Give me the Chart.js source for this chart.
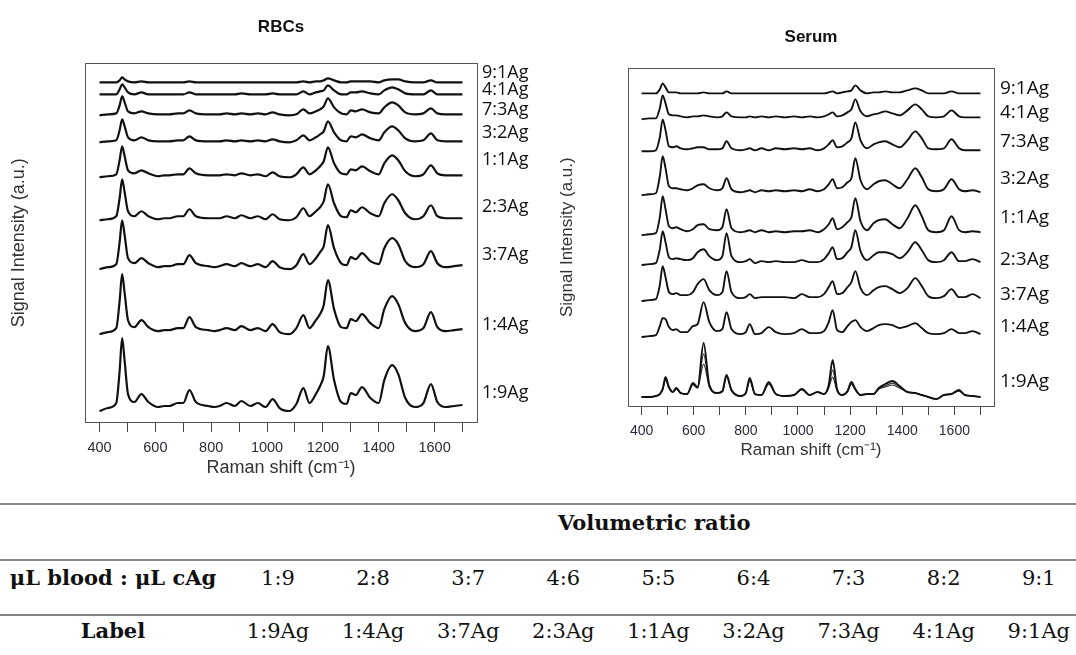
<!DOCTYPE html>
<html>
<head>
<meta charset="utf-8">
<script src="https://cdn.jsdelivr.net/npm/chart.js@4"></script>
<style>
  body { margin: 0; background: #fff; width: 1076px; height: 655px; position: relative; overflow: hidden; }
  canvas { position: absolute; top: 0; }
  #rbc { left: 0; }
  #serum { left: 540px; }
  .rule { position: absolute; left: 0; width: 1076px; height: 2px; background: #858585; }
  .cell { position: absolute; font-family: "DejaVu Serif", serif; font-size: 21px; color: #111; text-align: center; line-height: 24px; white-space: nowrap; }
  .head { font-weight: bold; }
</style>
</head>
<body>
<canvas id="rbc" width="540" height="490"></canvas>
<canvas id="serum" width="536" height="490"></canvas>
<div id="table"></div>
<script>
// Raman shift grid (cm-1) for each panel
const rbcShift = [400,430,460,472,481,490,502,525,550,575, 610,632,650,680,700,722,745,790,812,830,
  855,885,908,940,967,995,1020,1045,1080,1105, 1130,1152,1175,1190,1203,1218,1240,1265,1285,1300,
  1318,1340,1370,1400,1420,1448,1470,1495,1530,1560, 1587,1610,1640,1670,1700];
const serumShift = [400,430,455,470,481,492,505,520,533,550, 575,597,615,638,660,690,710,726,745,780,
  800,815,835,860,888,915,950,985,1015,1045, 1075,1100,1118,1133,1150,1170,1190,1205,1220,1240,
  1265,1290,1310,1335,1362,1390,1420,1450,1475,1500, 1530,1560,1589,1618,1640,1670,1700];

const shiftTicks = [400,500,600,700,800,900,1000,1100,1200,1300,1400,1500,1600,1700];
const shiftTickLabels = [400,600,800,1000,1200,1400,1600];

const names = ["9:1Ag","4:1Ag","7:3Ag","3:2Ag","1:1Ag","2:3Ag","3:7Ag","1:4Ag","1:9Ag"];

// RBCs spectra (a.u. above each trace's baseline)
const rbc91 = [0,0,0,2,5,3,1,0,1,0, 0,0,0,0,0,1,0,0,0,0, 0,0,0,0,0,0,0,0,0,0, 1,0,1,1,2,4,2,0,0,1, 1,1,1,0,2,3,3,1,0,0, 2,0,0,0,0];
const rbc41 = [0,0,0,5,10,7,2,0,2,0, 0,0,0,0,0,2,0,0,0,0, 0,0,1,0,0,0,1,0,0,0, 3,0,2,3,4,9,4,0,0,2, 2,3,1,0,4,7,5,1,0,0, 4,0,0,0,0];
const rbc73 = [-1,0,1,9,18,12,3,1,3,1, 0,0,0,1,1,4,1,0,0,0, 1,0,1,0,1,0,2,0,-1,0, 5,1,3,5,8,16,7,1,0,4, 3,5,2,1,7,12,9,2,0,1, 6,1,0,0,0];
const rbc32 = [-1,0,1,11,22,15,4,1,4,1, 0,0,0,1,1,5,1,0,0,0, 1,0,1,0,1,0,2,0,-1,1, 6,1,4,7,10,20,9,1,0,5, 4,7,3,1,9,15,11,3,0,1, 8,1,0,0,0];
const rbc11 = [-2,-1,1,15,29,19,5,2,5,2, -1,0,0,1,1,7,2,0,0,0, 1,0,2,0,1,-1,3,-1,-2,1, 8,1,5,9,14,28,12,2,1,6, 5,9,4,1,12,20,15,4,-1,1, 10,2,0,0,0];
const rbc23 = [-2,-1,2,20,39,26,7,2,7,2, -1,0,0,2,2,9,2,0,0,0, 2,0,3,0,2,-1,4,-1,-2,1, 10,2,7,11,17,34,15,2,1,8, 6,11,5,2,15,24,18,5,-1,2, 13,2,0,0,0];
const rbc37 = [-3,-1,2,24,46,31,8,3,8,3, -1,0,0,2,2,11,3,0,-1,0, 2,0,3,0,2,-1,5,-1,-3,1, 12,2,8,14,20,41,18,3,1,9, 7,13,5,2,18,28,22,5,-1,2, 15,3,-1,0,1];
const rbc14 = [-4,-2,2,29,56,37,10,3,10,3, -1,0,0,2,2,13,3,0,-1,0, 2,0,4,0,2,-1,6,-2,-4,2, 15,2,10,16,25,50,21,3,2,11, 9,16,7,2,21,34,26,7,-1,2, 18,3,-1,0,1];
const rbc19 = [-5,-2,3,35,68,45,12,4,12,4, -1,0,0,3,3,16,4,0,-1,0, 3,0,5,0,3,-1,7,-2,-5,2, 18,3,12,20,30,60,26,4,2,13, 11,19,8,3,26,41,32,8,-1,3, 22,4,-1,0,1];
const rbcOffset = [340,328,308,281,247,204,156,92,16];
const rbcLabelLevel = [350,332,312,289,262,215,167,97,29];

// Serum spectra
const serum91 = [0,0,0,4,10,6,1,1,1,0, 0,0,0,1,0,0,0,2,0,0, 0,0,0,0,0,0,0,0,0,0, 0,0,1,2,0,1,2,3,8,3, 0,1,1,2,1,1,3,5,3,0, 0,0,2,0,0,0,0];
const serum41 = [-2,-1,-1,9,22,14,3,2,2,1, 0,1,1,2,1,0,1,5,1,0, 0,1,0,1,0,1,0,1,0,1, 0,1,3,5,1,2,5,8,18,6, 1,3,4,6,4,2,7,13,8,1, 0,1,7,1,0,0,0];
const serum73 = [-1,-1,0,13,31,20,4,3,4,2, 1,2,3,3,1,1,2,9,2,0, 1,2,0,2,0,2,1,2,1,2, 0,2,6,10,3,4,8,12,28,10, 2,6,8,9,6,3,10,19,12,2, 1,2,11,2,0,0,0];
const serum32 = [-3,-2,-1,16,36,24,6,4,4,3, 2,4,7,8,4,2,4,14,3,0, 1,2,0,2,1,2,1,2,1,3, 1,3,8,13,4,5,10,14,34,12, 3,8,11,12,8,4,13,24,15,3, 1,3,13,3,1,2,0];
const serum11 = [-2,-1,0,16,37,24,7,5,6,4, 2,4,8,9,4,3,6,24,5,1, 2,3,1,3,1,2,1,2,2,3, 1,4,9,15,4,6,11,16,35,12, 3,10,13,14,9,5,15,28,17,3, 1,3,17,3,1,2,1];
const serum23 = [-1,0,1,15,33,22,7,5,6,5, 4,6,12,15,8,4,8,31,8,2, 3,5,1,3,2,3,2,2,4,2, 2,5,11,17,5,6,12,17,34,13, 4,9,12,12,10,6,12,22,14,4, 2,4,12,3,3,5,2];
const serum37 = [-1,0,1,15,34,23,8,6,7,5, 5,8,16,21,10,5,8,29,8,2, 3,6,2,3,3,3,3,2,6,3, 3,6,13,19,6,7,13,18,29,12, 5,10,13,14,11,7,12,22,14,4, 2,4,11,3,3,6,2];
const serum14 = [-1,0,1,10,18,17,9,6,7,4, 4,10,12,34,14,5,7,24,7,2, 4,12,2,3,9,4,2,3,7,3, 3,5,14,26,6,4,10,14,16,9, 5,8,11,12,11,8,10,13,8,3, 2,3,7,3,3,5,2];
const serum19 = [0,0,1,3,8,20,10,5,9,4, 3,14,10,54,12,4,6,22,7,1, 4,19,3,2,15,3,1,2,8,2, 5,3,12,37,8,2,6,15,8,2, 3,3,9,13,16,11,5,4,2,0, -2,2,3,7,2,1,0];
// 1:9Ag replicates
const serum19b = [0,0,1,3,8,18,9,5,8,4, 3,13,9,43,11,4,6,21,7,1, 4,17,3,2,14,3,1,2,8,2, 5,3,10,27,7,2,6,14,8,2, 3,3,8,11,14,10,5,4,2,0, -2,2,3,6,2,1,0];
const serum19c = [0,0,1,3,7,17,9,5,8,4, 3,12,9,33,10,4,5,20,6,1, 4,16,3,2,13,3,1,2,7,2, 5,3,9,20,6,2,5,13,7,2, 3,3,8,10,12,9,5,4,2,0, -2,2,3,6,2,1,0];
const serumOffset = [313,289,256,214,173,142,106,70,9];
const serumLabelLevel = [318,294,265,228,189,147,112,79,24];

// table
const bloodRatio = ["1:9","2:8","3:7","4:6","5:5","6:4","7:3","8:2","9:1"];
const sampleLabel = ["1:9Ag","1:4Ag","3:7Ag","2:3Ag","1:1Ag","3:2Ag","7:3Ag","4:1Ag","9:1Ag"];

const frame = {
  id: "frame",
  afterDraw(chart) {
    const { ctx, chartArea: a } = chart;
    ctx.save();
    ctx.strokeStyle = "#555";
    ctx.lineWidth = 1;
    ctx.strokeRect(Math.round(a.left) + 0.5, Math.round(a.top) + 0.5, Math.round(a.right - a.left), Math.round(a.bottom - a.top));
    ctx.restore();
  }
};

function buildChart(canvasId, p) {
  const sets = p.traces.map(t => ({
    data: p.shift.map((x, j) => ({ x: x, y: p.offset[t.at] + t.vals[j] })),
    borderColor: t.color || "#111",
    borderWidth: t.width || p.lineWidth,
    pointRadius: 0,
    cubicInterpolationMode: "monotone",
    fill: false,
  }));
  const sans = "'Liberation Sans', Arial, sans-serif";
  return new Chart(document.getElementById(canvasId), {
    type: "line",
    data: { datasets: sets },
    options: {
      responsive: false,
      animation: false,
      events: [],
      layout: { padding: 0 },
      plugins: {
        legend: { display: false },
        tooltip: { enabled: false },
        title: {
          display: true, text: p.title, fullSize: false, color: "#111",
          font: { family: sans, size: p.titleSize, weight: "bold" },
          padding: p.titlePad,
        },
      },
      scales: {
        x: {
          type: "linear", min: 348, max: 1752,
          afterBuildTicks: s => { s.ticks = shiftTicks.map(v => ({ value: v })); },
          afterFit: s => { s.height = p.xHeight; },
          border: { display: false },
          grid: { drawOnChartArea: false, tickLength: p.tickLen, color: "#444" },
          ticks: {
            autoSkip: false, maxRotation: 0, padding: p.tickPad, color: "#2a2a3a",
            font: { family: sans, size: p.tickSize },
            callback: v => shiftTickLabels.includes(v) ? String(v) : "",
          },
          title: {
            display: true, text: "Raman shift (cm\u207B\u00B9)", color: "#333",
            font: { family: sans, size: p.axisTitleSize },
            padding: { top: 0, bottom: p.xTitlePad },
          },
        },
        y: {
          position: "left", min: 0, max: p.max,
          afterFit: s => { s.width = p.yWidth; },
          ticks: { display: false },
          grid: { display: false },
          border: { display: false },
          title: {
            display: true, text: "Signal Intensity (a.u.)", color: "#333",
            font: { family: sans, size: p.axisTitleSize },
            padding: { top: p.yTitlePad, bottom: 0 },
          },
        },
        lab: {
          position: "right", min: 0, max: p.max,
          afterFit: s => { s.width = p.labWidth; },
          afterBuildTicks: s => { s.ticks = p.level.map(v => ({ value: v })); },
          grid: { display: false, drawTicks: false },
          border: { display: false },
          ticks: {
            autoSkip: false, padding: p.labPad, color: "#111",
            font: { family: "'Open Sans', sans-serif", size: p.labSize },
            callback: (v, i) => names[i],
          },
        },
      },
    },
    plugins: [frame],
  });
}

buildChart("rbc", {
  title: "RBCs", titleSize: 17, titlePad: { top: 17, bottom: 26 },
  shift: rbcShift, offset: rbcOffset, level: rbcLabelLevel, max: 359,
  traces: [rbc91, rbc41, rbc73, rbc32, rbc11, rbc23, rbc37, rbc14, rbc19].map((vals, i) => ({ vals, at: i })),
  lineWidth: 2.2, xHeight: 68, yWidth: 85, labWidth: 63,
  tickLen: 10, tickPad: 7, tickSize: 14.5, axisTitleSize: 18, xTitlePad: 11, yTitlePad: 8,
  labPad: 5, labSize: 18,
});

buildChart("serum", {
  title: "Serum", titleSize: 17, titlePad: { top: 27, bottom: 21 },
  shift: serumShift, offset: serumOffset, level: serumLabelLevel, max: 338,
  traces: [serum91, serum41, serum73, serum32, serum11, serum23, serum37, serum14, serum19]
    .map((vals, i) => ({ vals, at: i }))
    .concat([{ vals: serum19b, at: 8, width: 1.2, color: "#333" }, { vals: serum19c, at: 8, width: 1.2, color: "#333" }]),
  lineWidth: 1.9, xHeight: 84, yWidth: 88, labWidth: 82,
  tickLen: 9, tickPad: 8, tickSize: 14, axisTitleSize: 17, xTitlePad: 29, yTitlePad: 17,
  labPad: 6, labSize: 19,
});

// ratio table under the charts
const table = document.getElementById("table");
function cell(text, left, top, width, bold, align) {
  const d = document.createElement("div");
  d.className = "cell" + (bold ? " head" : "");
  d.textContent = text;
  d.style.left = left + "px";
  d.style.top = top + "px";
  d.style.width = width + "px";
  if (align) d.style.textAlign = align;
  table.appendChild(d);
}
[503, 559, 614].forEach(y => {
  const r = document.createElement("div");
  r.className = "rule";
  r.style.top = y + "px";
  table.appendChild(r);
});
cell("Volumetric ratio", 558, 511, 220, true, "left");
cell("\u03BCL blood : \u03BCL cAg", 0, 566, 226, true);
cell("Label", 0, 619, 226, true);
bloodRatio.forEach((r, i) => cell(r, 230.5 + i * 95.1, 566, 95, false));
sampleLabel.forEach((l, i) => cell(l, 230.5 + i * 95.1, 619, 95, false));
</script>
</body>
</html>
